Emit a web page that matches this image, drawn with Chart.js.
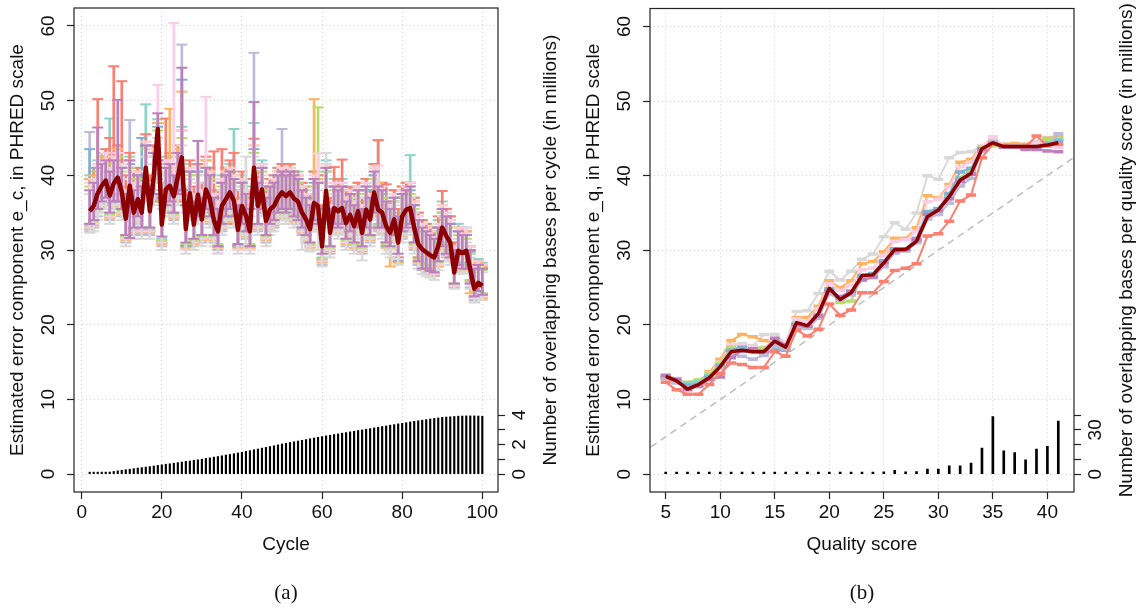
<!DOCTYPE html>
<html>
<head>
<meta charset="utf-8">
<script src="https://cdn.jsdelivr.net/npm/chart.js@4.4.1/dist/chart.umd.min.js"></script>
<style>
  body { margin: 0; background: #fff; width: 1144px; height: 609px; overflow: hidden; position: relative; }
  canvas { position: absolute; top: 0; }
  #chartA { left: 0; }
  #chartB { left: 572px; }
</style>
</head>
<body>
<canvas id="chartA" width="572" height="609"></canvas>
<canvas id="chartB" width="572" height="609"></canvas>
<script>
// ---------- panel (a): error component per cycle ----------
const mainA = [
  35.2,35.9,37.6,38.6,39.3,37.3,38.9,39.7,37.8,34.2,
  38.6,35.0,36.8,35.0,41.0,35.2,39.9,46.2,33.4,38.1,
  38.6,37.2,39.8,42.4,32.8,37.6,33.4,37.4,34.1,38.1,
  36.8,34.0,32.5,35.9,36.8,37.7,36.6,32.7,35.9,34.6,
  32.5,41.0,35.9,38.1,33.9,35.4,35.9,37.0,37.7,37.2,
  37.7,36.9,36.5,35.0,34.1,32.8,36.3,35.9,30.5,37.9,
  32.3,35.6,35.2,35.6,33.6,34.7,33.2,35.2,32.3,35.4,
  34.1,37.7,35.4,35.0,33.2,32.3,34.1,31.0,34.5,35.4,
  35.6,33.0,30.8,30.1,29.7,29.3,29.0,30.5,33.0,31.9,
  31.0,27.0,29.9,29.6,29.9,27.4,24.8,25.6,25.2];

// overlapping bases per cycle, millions
const countA = [
  0.01,0.03,0.05,0.07,0.11,0.14,0.18,0.22,0.26,0.30,
  0.33,0.37,0.41,0.44,0.48,0.51,0.55,0.59,0.63,0.67,
  0.70,0.74,0.78,0.82,0.86,0.89,0.93,0.97,1.01,1.06,
  1.10,1.15,1.19,1.24,1.29,1.33,1.38,1.43,1.48,1.54,
  1.59,1.65,1.70,1.76,1.81,1.87,1.92,1.98,2.04,2.09,
  2.14,2.19,2.24,2.29,2.34,2.39,2.44,2.49,2.54,2.59,
  2.63,2.68,2.72,2.77,2.81,2.86,2.90,2.95,2.99,3.04,
  3.08,3.13,3.17,3.22,3.26,3.31,3.35,3.40,3.44,3.48,
  3.53,3.57,3.61,3.65,3.69,3.73,3.77,3.80,3.84,3.86,
  3.88,3.90,3.92,3.93,3.94,3.94,3.94,3.93,3.92];

// per-sample error bars (lower / upper caps)
const salmonHi = [
  39.5,41.0,50.2,42.0,43.5,45.0,54.6,44.0,52.6,40.0,
  43.0,40.5,41.0,40.0,45.5,40.0,44.0,47.0,39.0,47.6,
  43.0,41.5,44.0,46.0,38.0,42.0,38.5,41.5,39.0,42.5,
  41.0,43.2,38.0,43.5,41.0,42.0,43.0,38.0,40.5,39.5,
  38.0,44.9,40.5,41.5,38.5,39.5,40.0,41.0,41.5,41.0,
  41.5,40.5,40.0,39.0,38.5,37.5,40.5,40.0,36.0,41.0,
  37.0,41.1,39.5,42.1,38.0,38.4,37.5,39.0,37.0,39.5,
  38.0,41.5,44.7,39.0,38.8,36.5,38.0,35.5,38.5,39.0,
  39.0,37.0,35.0,34.0,33.5,33.0,32.5,34.5,37.9,35.5,
  34.5,31.0,33.0,32.5,32.5,30.5,28.0,28.5,28.0];
const salmonLo = [
  33.0,33.5,35.0,35.5,36.5,34.5,36.0,36.5,35.0,31.5,
  35.5,32.5,34.0,32.5,37.0,32.5,36.5,40.0,31.0,35.0,
  35.5,34.5,36.5,38.0,30.5,34.5,31.0,34.5,31.5,35.0,
  34.0,31.5,30.5,33.0,34.0,34.5,33.5,30.5,33.0,32.0,
  30.5,36.0,33.0,35.0,31.5,33.0,33.5,34.5,35.0,34.5,
  35.0,34.5,34.0,32.5,32.0,30.5,33.5,33.5,28.5,34.5,
  30.0,33.0,32.5,33.0,31.5,32.0,31.0,32.5,30.0,32.5,
  31.5,34.5,33.0,32.5,31.0,30.0,31.5,29.0,32.0,33.0,
  33.0,31.0,29.0,28.0,27.8,27.5,27.3,28.5,30.5,30.0,
  29.0,25.5,28.0,27.8,28.0,25.8,23.5,24.2,24.0];
const purpleHi = [
  38.0,39.0,46.4,41.5,42.0,40.5,42.0,50.1,41.0,37.5,
  42.0,38.0,40.0,38.5,44.0,38.5,43.0,48.3,37.0,41.0,
  41.5,40.0,43.0,54.4,36.0,40.5,36.5,44.6,37.0,41.0,
  40.0,37.0,35.5,39.0,40.0,40.5,39.5,36.0,39.0,37.5,
  35.5,49.8,39.0,41.0,37.0,38.5,39.0,40.0,40.5,40.0,
  40.5,40.0,39.5,38.0,37.0,36.0,39.5,39.0,34.0,41.0,
  35.5,38.5,38.0,38.5,36.5,37.5,36.0,38.0,35.5,38.5,
  37.0,40.5,38.5,38.0,36.5,35.5,37.0,34.5,37.5,38.0,
  38.5,36.0,34.0,33.0,32.5,32.0,31.5,33.0,35.5,34.5,
  33.5,30.0,32.5,32.0,32.0,30.0,27.5,28.0,27.5];
const purpleLo = [
  33.5,34.0,35.5,36.5,37.0,35.0,36.5,36.5,35.5,32.0,
  31.6,33.0,34.5,33.0,38.5,33.0,37.5,42.0,31.8,36.0,
  36.5,35.0,37.5,38.0,31.0,35.5,31.5,34.5,32.0,35.5,
  34.5,32.0,30.5,33.5,34.5,35.5,34.5,30.8,33.5,32.5,
  30.5,37.0,33.5,35.5,32.0,33.5,34.0,35.0,35.5,35.0,
  35.5,34.5,34.0,33.0,32.0,31.0,34.0,33.5,29.5,35.5,
  30.5,33.5,33.0,33.5,31.5,32.5,31.0,33.0,30.5,33.0,
  32.0,35.0,33.0,33.0,31.0,30.5,32.0,29.5,32.5,33.0,
  33.5,31.0,28.5,27.5,27.5,27.2,27.0,28.5,30.5,29.5,
  29.0,25.5,28.0,27.5,27.5,25.5,23.8,24.5,24.0];
const pinkHi = [
  39.0,39.5,41.5,42.0,43.0,41.0,42.5,43.0,41.5,38.0,
  42.0,39.0,40.5,39.0,44.5,39.0,43.5,52.1,37.5,42.0,
  42.0,60.4,43.0,46.0,37.0,41.0,37.5,41.0,38.0,50.5,
  40.5,37.5,36.5,39.5,40.5,41.0,40.0,36.5,39.5,38.0,
  36.5,44.0,39.5,41.5,37.5,39.0,39.5,40.5,41.0,40.5,
  41.0,40.0,40.0,38.5,37.5,36.5,40.0,42.9,34.5,41.5,
  36.0,39.0,38.5,39.0,37.0,38.0,36.5,38.5,36.0,39.0,
  37.5,41.0,41.3,38.5,36.5,36.0,37.5,34.5,38.0,38.5,
  39.0,36.5,34.5,33.5,33.0,32.5,32.0,33.5,36.0,35.0,
  34.0,30.5,33.0,32.5,33.0,30.5,27.8,28.5,28.0];
const pinkLo = [
  33.0,33.5,35.0,36.0,36.5,34.5,36.0,37.0,35.0,31.5,
  35.5,32.5,34.0,32.5,38.0,32.5,37.0,40.5,31.0,35.5,
  35.5,34.5,37.0,38.5,30.0,35.0,31.0,34.5,31.5,35.5,
  34.0,31.5,29.6,33.0,34.0,35.0,34.0,30.0,33.0,32.0,
  30.0,36.5,33.0,35.5,31.5,33.0,33.5,34.5,35.0,34.5,
  35.0,34.0,34.0,32.5,31.5,30.5,33.5,33.0,28.5,35.0,
  30.0,33.0,32.5,33.0,31.0,32.0,30.5,32.5,30.0,32.5,
  31.5,35.0,33.0,32.5,31.0,30.0,31.5,28.8,32.0,33.0,
  33.0,30.5,28.5,27.8,27.5,27.0,26.8,28.0,30.5,29.5,
  28.8,25.2,27.8,27.5,27.8,25.5,23.5,24.0,23.8];
const lavHi = [
  45.8,40.0,41.0,42.5,42.5,40.5,42.0,43.0,41.0,37.5,
  47.4,38.5,40.0,38.5,44.0,38.5,43.0,47.0,37.0,41.5,
  41.5,40.5,43.0,57.5,36.0,40.5,36.5,40.5,37.5,41.0,
  40.0,37.0,36.0,39.0,40.0,40.5,39.5,36.0,39.0,37.5,
  36.0,56.4,39.0,41.0,37.0,38.5,39.0,40.5,46.2,40.0,
  40.5,40.0,39.5,38.0,37.0,36.0,39.5,39.0,34.0,41.0,
  35.5,38.5,38.0,38.5,36.5,37.5,36.0,38.0,35.5,38.5,
  37.0,40.0,38.5,38.0,36.0,35.5,37.0,34.0,37.5,38.0,
  38.5,36.0,34.0,33.0,32.5,32.0,31.5,33.0,35.5,34.5,
  33.5,30.0,32.5,32.0,32.0,29.8,27.3,28.0,27.5];
const lavLo = [
  32.5,33.0,34.5,35.5,36.0,34.0,35.5,36.5,34.5,31.0,
  35.0,32.0,33.5,32.0,37.5,32.0,36.5,39.5,30.5,35.0,
  35.0,34.0,36.5,37.5,30.0,34.5,30.5,34.0,31.0,35.0,
  33.5,31.0,30.0,32.5,33.5,34.5,33.5,30.0,32.5,31.5,
  30.0,36.0,32.5,35.0,31.0,32.5,33.0,34.0,34.5,34.0,
  34.5,33.5,33.5,32.0,31.0,30.0,33.0,32.5,28.0,34.5,
  29.5,32.5,32.0,32.5,30.5,31.5,30.0,32.0,29.5,32.0,
  31.0,34.5,32.5,32.0,30.5,29.5,31.0,28.5,31.5,32.5,
  32.5,30.0,28.0,27.3,27.0,26.8,26.5,27.8,30.0,29.0,
  28.5,25.0,27.5,27.0,27.3,25.0,23.3,23.8,23.5];
const tealHi = [
  40.0,40.5,42.0,43.0,43.5,47.6,43.0,44.0,42.0,38.5,
  42.5,39.5,41.0,39.5,49.5,39.5,44.0,47.5,38.0,42.5,
  42.5,41.0,43.5,46.5,37.0,41.5,37.5,41.5,38.0,42.0,
  41.0,38.0,36.5,40.0,41.0,41.5,46.2,37.0,40.0,38.5,
  36.5,47.0,40.0,42.0,38.0,39.5,40.0,41.0,41.5,41.0,
  41.5,40.5,40.5,39.0,38.0,37.0,40.5,40.0,35.0,42.0,
  36.5,39.5,39.0,39.5,37.5,38.5,37.0,39.0,36.5,39.5,
  38.0,41.5,44.7,39.0,37.0,36.5,38.0,35.0,38.5,39.0,
  42.7,37.0,35.0,34.0,33.5,33.0,32.5,34.0,36.5,35.5,
  34.5,31.0,33.5,33.0,33.0,30.5,28.0,28.8,28.3];
const tealLo = [
  33.5,34.0,35.5,36.5,37.0,35.0,36.5,37.5,35.5,32.0,
  36.0,33.0,34.5,33.0,38.0,33.0,37.5,40.5,31.5,36.0,
  36.0,35.0,37.5,38.5,30.5,35.5,31.5,35.0,32.0,36.0,
  34.5,32.0,30.5,33.5,34.5,35.5,34.5,30.5,33.5,32.5,
  30.5,37.0,33.5,35.5,32.0,33.5,34.0,35.0,35.5,35.0,
  35.5,34.5,34.5,33.0,32.0,31.0,34.0,33.5,29.0,35.5,
  30.5,33.5,33.0,33.5,31.5,32.5,31.0,33.0,30.5,33.0,
  32.0,35.5,33.5,33.0,31.0,30.5,32.0,29.0,32.5,33.5,
  33.5,31.0,29.0,28.3,28.0,27.5,27.3,28.5,31.0,30.0,
  29.3,25.5,28.3,28.0,28.3,26.0,23.8,24.5,24.2];
const blueHi = [
  43.5,39.5,41.0,42.0,42.5,40.5,42.0,42.5,41.0,37.5,
  41.5,38.0,40.0,45.0,44.0,38.0,43.0,46.5,36.5,41.0,
  41.5,40.0,42.5,52.8,36.0,40.5,36.5,40.5,37.0,41.0,
  40.0,37.0,35.5,39.0,40.0,40.5,39.5,36.0,39.0,37.5,
  35.5,43.5,39.0,41.0,37.0,38.5,39.0,40.0,40.5,40.0,
  40.5,39.5,39.5,38.0,37.0,36.0,39.0,39.0,34.0,40.5,
  35.5,38.5,38.0,38.5,36.5,37.5,36.0,38.0,35.5,38.0,
  37.0,40.0,38.0,37.5,36.0,35.5,36.5,34.0,37.0,37.5,
  38.0,36.0,33.5,33.0,32.5,32.0,31.5,33.0,35.0,34.5,
  33.5,30.0,32.5,32.0,32.0,29.8,27.5,28.0,27.8];
const blueLo = [
  33.0,33.5,35.0,36.0,36.5,34.5,36.0,37.0,35.0,31.5,
  35.5,32.5,34.0,32.5,37.5,32.5,37.0,40.0,31.0,35.5,
  35.5,34.5,37.0,38.0,30.5,35.0,31.0,34.5,31.5,35.5,
  34.0,31.5,30.5,33.0,34.0,35.0,34.0,30.5,33.0,32.0,
  30.5,36.5,33.0,35.0,31.5,33.0,33.5,34.5,35.0,34.5,
  35.0,34.0,34.0,32.5,31.5,30.5,33.5,33.0,28.8,35.0,
  30.0,33.0,32.5,33.0,31.0,32.0,30.5,32.5,30.0,32.5,
  31.5,35.0,33.0,32.5,30.5,30.0,31.5,28.5,32.0,33.0,
  33.0,30.5,28.5,27.8,27.5,27.0,26.8,28.0,30.5,29.5,
  28.8,25.3,27.8,27.5,27.8,25.5,23.6,24.3,24.0];
const orangeHi = [
  39.5,40.0,41.5,42.5,43.0,41.0,42.5,43.5,41.5,38.0,
  42.0,39.0,40.5,39.0,44.5,39.0,43.5,47.0,37.5,42.0,
  48.9,41.0,43.5,51.2,37.0,41.0,37.5,41.0,38.0,42.0,
  40.5,37.5,36.5,39.5,40.5,41.0,40.0,36.5,39.5,38.0,
  36.5,44.0,39.5,41.5,37.5,39.0,39.5,40.5,41.0,40.5,
  41.0,40.0,40.0,38.5,37.5,36.5,50.2,39.5,34.5,41.5,
  36.0,39.0,38.5,39.0,37.0,38.0,36.5,38.5,36.0,39.0,
  37.5,41.0,39.0,38.5,36.5,36.0,37.5,34.5,38.0,38.5,
  39.0,36.5,34.5,33.5,33.0,32.5,32.0,33.5,36.0,35.0,
  34.0,30.5,33.0,32.5,32.5,30.0,27.5,28.3,27.8];
const orangeLo = [
  32.8,33.3,35.0,35.8,36.3,34.3,35.8,36.8,34.8,31.3,
  35.3,32.3,33.8,32.3,37.8,32.3,36.8,40.3,30.8,35.3,
  35.3,34.3,36.8,38.3,30.3,34.8,30.8,34.3,31.3,35.3,
  33.8,31.3,30.3,32.8,33.8,34.8,33.8,30.3,32.8,31.8,
  30.3,36.3,32.8,35.3,31.3,32.8,33.3,34.3,34.8,34.3,
  34.8,33.8,33.8,32.3,31.3,30.3,33.3,32.8,28.3,34.8,
  29.8,32.8,32.3,32.8,30.8,31.8,30.3,32.3,29.8,32.3,
  31.3,34.8,32.8,32.3,30.3,27.8,31.3,28.3,31.8,32.8,
  32.8,30.3,28.3,27.6,27.3,26.8,26.6,27.8,30.3,29.3,
  28.6,25.0,27.6,27.3,27.6,24.2,23.0,23.8,23.5];
const greenHi = [
  38.5,39.0,40.5,41.5,42.0,40.0,41.5,42.5,40.5,37.0,
  41.0,38.0,39.5,38.0,43.5,38.0,42.5,46.0,36.5,41.0,
  41.0,40.0,42.5,45.0,36.0,40.0,36.5,40.0,37.0,41.0,
  39.5,36.5,35.5,38.5,39.5,40.5,39.0,35.5,38.5,37.0,
  35.5,43.0,38.5,40.5,36.5,38.0,38.5,39.5,40.0,39.5,
  40.0,39.5,39.0,37.5,36.5,35.5,38.5,49.1,33.5,40.5,
  35.0,38.0,37.5,38.0,36.0,37.0,35.5,37.5,35.0,37.5,
  36.5,39.5,37.5,37.0,35.5,35.0,36.5,33.5,37.0,37.5,
  37.5,35.5,33.5,32.5,32.0,31.5,31.0,32.5,35.0,34.0,
  33.0,29.5,32.0,31.5,31.5,29.5,27.0,27.8,27.3];
const greenLo = [
  33.3,33.8,35.3,36.3,36.8,34.8,36.3,37.3,35.3,31.8,
  35.8,32.8,34.3,32.8,37.8,32.8,37.3,40.3,31.3,35.8,
  35.8,34.8,37.3,38.3,30.8,35.3,31.3,34.8,31.8,35.8,
  34.3,31.8,30.8,33.3,34.3,35.3,34.3,30.8,33.3,32.3,
  30.8,36.8,33.3,35.8,31.8,33.3,33.8,34.8,35.3,34.8,
  35.3,34.3,34.3,32.8,31.8,30.8,33.8,33.3,28.8,35.3,
  30.3,33.3,32.8,33.3,31.3,32.3,30.8,32.8,30.3,32.8,
  31.8,35.3,33.3,32.8,30.8,30.3,31.8,28.8,32.3,33.3,
  33.3,30.8,28.8,28.0,27.8,27.3,27.0,28.3,30.8,29.8,
  29.0,25.5,28.0,27.8,28.0,25.8,23.8,24.5,24.2];
const greyHi = [
  37.5,38.0,39.5,40.5,41.0,39.5,41.0,41.5,39.5,36.5,
  40.5,37.0,39.0,37.5,42.5,37.0,41.5,45.0,35.5,40.0,
  40.0,39.0,41.5,44.0,35.0,39.5,35.5,39.0,36.0,40.0,
  39.0,36.0,34.5,38.0,39.0,39.5,38.5,35.0,38.0,42.5,
  34.5,42.5,38.0,40.0,36.0,37.5,38.0,39.0,39.5,39.0,
  39.5,38.5,38.5,37.0,36.0,35.0,38.0,38.0,33.0,43.0,
  34.5,37.5,37.0,37.5,35.5,36.5,35.0,37.0,34.5,37.0,
  36.0,39.0,37.0,36.5,35.0,34.5,36.0,33.0,36.5,37.0,
  37.0,35.0,33.0,32.0,31.5,31.0,30.5,32.0,34.5,33.5,
  32.5,29.0,31.5,31.0,31.0,29.0,26.5,27.3,27.0];
const greyLo = [
  32.3,32.5,34.0,35.0,35.5,33.5,35.0,36.0,34.0,30.5,
  34.5,31.5,33.0,31.5,36.5,31.5,36.0,39.0,30.0,34.5,
  34.5,33.5,36.0,37.0,29.5,34.0,30.0,33.5,30.5,34.5,
  33.0,30.5,29.5,32.0,33.0,34.0,33.0,29.5,32.0,30.5,
  29.5,35.5,32.0,34.5,30.5,32.0,32.5,33.5,34.0,33.5,
  34.0,33.0,33.0,30.0,30.0,29.8,32.5,30.0,27.8,33.5,
  29.0,32.0,31.5,32.0,30.0,31.0,29.5,31.5,28.6,31.5,
  30.5,34.0,32.0,31.5,29.5,29.0,30.5,28.0,31.0,32.0,
  32.0,29.5,27.5,26.8,26.5,26.3,26.0,27.3,29.5,28.5,
  28.0,24.8,27.0,26.8,27.0,24.8,23.0,23.5,23.3];

// ---------- panel (b): error component per quality score ----------
const mainB = [13.1,12.5,11.4,12.0,12.9,14.4,16.4,16.6,16.4,16.4,
  17.8,17.0,20.3,19.9,21.5,24.9,23.4,24.3,26.6,26.7,
  28.3,30.1,30.1,31.2,34.5,35.4,37.2,39.4,40.3,43.6,
  44.4,43.9,43.9,43.9,43.9,44.1,44.4];
const salmonB = [12.3,11.3,10.7,10.7,12.0,13.5,14.9,14.7,14.3,14.3,
  16.4,15.8,19.3,18.5,19.4,22.8,21.3,22.0,24.3,24.3,
  25.8,27.3,27.6,28.2,31.9,32.2,33.9,36.6,37.4,42.4,
  44.2,44.0,43.9,43.9,45.3,44.0,44.2];
const greyB = [13.3,12.8,12.0,12.3,13.3,15.2,17.3,17.5,17.2,18.7,
  18.7,17.6,21.8,21.9,24.2,27.2,26.0,27.2,28.8,29.5,
  31.8,33.7,32.8,35.0,40.0,39.5,42.4,43.1,43.2,44.0,
  44.9,44.2,44.2,44.2,44.6,45.1,45.3];
const orangeB = [13.1,12.5,11.8,12.3,13.7,15.4,17.9,18.7,18.4,17.9,
  17.5,17.3,21.0,21.0,22.5,25.9,25.0,25.9,28.2,28.5,
  29.8,31.6,31.6,33.0,37.3,37.0,38.8,41.8,42.2,44.0,
  44.3,44.2,44.3,44.2,44.2,45.0,45.2];
const purpleB = [13.2,12.7,11.3,11.8,12.7,13.0,15.6,16.5,16.8,16.5,
  18.2,17.3,20.0,19.8,21.2,24.5,23.8,24.5,26.0,26.4,
  28.3,29.9,30.1,31.4,34.8,35.3,36.9,39.2,40.2,43.5,
  44.3,43.8,43.8,43.5,43.5,43.3,43.2];
const pinkB = [13.0,12.6,11.8,12.3,13.5,15.0,17.3,17.2,17.0,17.0,
  18.0,17.6,20.8,20.5,22.2,25.5,24.6,25.3,27.4,27.6,
  29.3,31.2,31.4,32.5,36.5,36.8,38.5,41.2,41.8,44.0,
  45.2,44.0,44.0,43.8,44.3,44.5,43.8];
const blueB = [12.9,12.4,11.9,12.0,13.0,14.5,16.6,17.0,16.5,16.2,
  16.6,16.6,20.0,19.6,21.0,24.8,23.6,24.5,26.6,26.9,
  28.6,30.2,30.2,31.6,35.2,35.6,37.6,40.5,41.0,43.6,
  44.2,43.8,43.8,43.6,43.6,44.3,44.6];
const lavB = [12.9,12.2,11.6,11.7,12.6,14.2,16.0,15.8,15.4,15.9,
  17.2,16.8,19.7,19.5,20.9,24.2,23.3,24.0,26.0,26.3,
  27.8,29.6,29.9,31.0,34.2,34.8,36.3,38.6,39.6,43.2,
  44.6,44.0,44.0,43.8,43.8,44.0,45.6];
const greenB = [13.0,12.5,12.3,12.6,13.4,14.8,17.0,16.8,16.8,16.9,
  16.9,16.9,20.2,19.8,21.3,24.8,23.0,23.2,26.5,26.8,
  28.6,29.9,30.0,31.2,35.0,35.5,37.2,39.8,40.6,43.8,
  44.0,43.8,43.8,43.8,43.8,44.8,45.0];
const tealB = [12.8,12.3,12.2,12.4,13.2,14.6,16.5,16.8,16.4,16.2,
  16.8,16.9,20.2,19.8,21.4,24.8,23.6,24.3,26.6,26.8,
  28.5,30.0,30.1,31.3,35.0,35.5,37.3,39.6,40.4,43.6,
  44.4,43.9,43.9,43.9,43.9,44.4,44.8];
// overlapping bases per quality score, millions
const countB = [0.3,0.3,0.4,0.3,0.3,0.3,0.3,0.4,0.3,0.3,
  0.3,0.3,0.4,0.5,0.3,0.4,0.3,0.3,0.4,1.0,
  1.6,2.5,1.6,1.8,3.4,3.4,5.6,5.6,7.4,17.6,
  38.9,15.7,14.6,9.7,16.9,18.9,36.0];
const refLine = [0, 45];  // y = x

const cycles = Array.from({length: mainA.length}, (_, i) => i + 2);
const quals = Array.from({length: mainB.length}, (_, i) => i + 5);

const C = {teal:'#8DD3C7', lav:'#BEBADA', salmon:'#FB8072', blue:'#80B1D3', orange:'#FDB462',
  green:'#B3DE69', pink:'#FCCDE5', grey:'#D9D9D9', purple:'#BC80BD', dark:'#8B0000'};

const pts = (xs, ys) => xs.map((x, i) => ({x: x, y: ys[i]}));

function errorBars(lo, hi, color) {
  return [
    { type: 'scatter', data: pts(cycles, lo).concat(pts(cycles, hi)), pointStyle: 'line',
      pointRadius: 5.5, pointBorderWidth: 2, borderColor: color, backgroundColor: color, yAxisID: 'y' },
    { type: 'bar', data: cycles.map((x, i) => ({x: x, y: [lo[i], hi[i]]})), backgroundColor: color,
      borderWidth: 0, barThickness: 2, grouped: false, yAxisID: 'y' }
  ];
}

function stepLine(ys, color) {
  return { type: 'line', data: pts(quals, ys), borderColor: color, borderWidth: 2, tension: 0,
    pointStyle: 'line', pointRadius: 5, pointBorderWidth: 3.5, pointBorderColor: color,
    pointBackgroundColor: color, yAxisID: 'y' };
}

const setTicks = vals => s => { s.ticks = vals.map(v => ({value: v})); };
const gridOn = {color: '#d2d2d2', lineWidth: 1, tickLength: 7, tickColor: '#222', tickWidth: 1.2,
  tickBorderDash: [], offset: false};
const gridOff = {drawOnChartArea: false, tickLength: 7, tickColor: '#222', tickWidth: 1.2, tickBorderDash: []};
const dotted = {display: false, dash: [1, 3]};

// labels, titles and the box are drawn as text on top of the chart
function decor(o) {
  return {
    id: 'decor',
    afterDraw(chart) {
      const ctx = chart.ctx, a = chart.chartArea, sc = chart.scales;
      ctx.save();
      ctx.strokeStyle = '#222';
      ctx.lineWidth = 1.2;
      ctx.strokeRect(a.left, a.top, a.right - a.left, a.bottom - a.top);
      ctx.fillStyle = '#111';
      ctx.font = '19px "Liberation Sans", Arial, sans-serif';
      ctx.textAlign = 'center';
      ctx.textBaseline = 'middle';
      const vtext = (t, x, y) => {
        ctx.save(); ctx.translate(x, y); ctx.rotate(-Math.PI / 2); ctx.fillText(t, 0, 0); ctx.restore();
      };
      o.xLabels.forEach(v => ctx.fillText(String(v), sc.x.getPixelForValue(v), a.bottom + 21));
      o.yLabels.forEach(v => vtext(String(v), a.left - 25, sc.y.getPixelForValue(v)));
      o.y2Labels.forEach(v => vtext(String(v), a.right + 21.5, sc.y2.getPixelForValue(v)));
      const midX = (a.left + a.right) / 2, midY = (a.top + a.bottom) / 2;
      vtext(o.yTitle, a.left - 56, midY);
      vtext(o.y2Title, a.right + 53, midY);
      ctx.fillText(o.xTitle, midX, a.bottom + 53);
      ctx.font = '21px "Liberation Serif", "Times New Roman", serif';
      ctx.fillText(o.caption, midX, 593);
      ctx.restore();
    }
  };
}

const baseOpts = (xmin, xmax, xt, y2min, y2max, y2t, leftW, rightW) => ({
  responsive: false, animation: false, devicePixelRatio: 1,
  layout: {padding: {top: 8, left: 0, right: 0, bottom: 0}},
  plugins: {legend: {display: false}, tooltip: {enabled: false}},
  scales: {
    x: {type: 'linear', offset: false, min: xmin, max: xmax, afterBuildTicks: setTicks(xt), ticks: {display: false},
        grid: gridOn, border: dotted, afterFit: s => { s.height = 117; }},
    y: {type: 'linear', position: 'left', min: -2.4, max: 62.4, afterBuildTicks: setTicks([0,10,20,30,40,50,60]),
        ticks: {display: false}, grid: gridOn, border: dotted, afterFit: s => { s.width = leftW; }},
    y2: {type: 'linear', position: 'right', min: y2min, max: y2max, afterBuildTicks: setTicks(y2t),
        ticks: {display: false}, grid: gridOff, border: {display: false}, afterFit: s => { s.width = rightW; }}
  }
});

// panel (a)
new Chart(document.getElementById('chartA'), {
  type: 'scatter',
  data: {
    datasets: [
      { type: 'line', data: pts(cycles, mainA), borderColor: C.dark, borderWidth: 4.5, pointRadius: 0,
        tension: 0, borderJoinStyle: 'round', yAxisID: 'y' },
      ...errorBars(purpleLo, purpleHi, C.purple),
      ...errorBars(greyLo, greyHi, C.grey),
      ...errorBars(pinkLo, pinkHi, C.pink),
      ...errorBars(greenLo, greenHi, C.green),
      ...errorBars(orangeLo, orangeHi, C.orange),
      ...errorBars(blueLo, blueHi, C.blue),
      ...errorBars(salmonLo, salmonHi, C.salmon),
      ...errorBars(lavLo, lavHi, C.lav),
      ...errorBars(tealLo, tealHi, C.teal),
      { type: 'bar', data: pts(cycles, countA), backgroundColor: '#000', borderWidth: 0,
        barThickness: 1.5, minBarLength: 2, grouped: false, yAxisID: 'y2' }
    ]
  },
  options: baseOpts(-1.92, 103.92, [0,20,40,60,80,100], -1.21, 31.54, [0,1,2,3,4], 74, 74),
  plugins: [decor({
    xLabels: [0,20,40,60,80,100], yLabels: [0,10,20,30,40,50,60], y2Labels: [0,2,4],
    xTitle: 'Cycle', yTitle: 'Estimated error component e_c, in PHRED scale',
    y2Title: 'Number of overlapping bases per cycle (in millions)', caption: '(a)'
  })]
});

// panel (b)
new Chart(document.getElementById('chartB'), {
  type: 'scatter',
  data: {
    datasets: [
      { type: 'line', data: pts(quals, mainB), borderColor: C.dark, borderWidth: 3.5, pointRadius: 0,
        tension: 0, borderJoinStyle: 'round', yAxisID: 'y' },
      stepLine(salmonB, C.salmon),
      stepLine(purpleB, C.purple),
      stepLine(lavB, C.lav),
      stepLine(blueB, C.blue),
      stepLine(tealB, C.teal),
      stepLine(greenB, C.green),
      stepLine(pinkB, C.pink),
      stepLine(orangeB, C.orange),
      stepLine(greyB, C.grey),
      { type: 'line', data: pts(refLine, refLine), borderColor: '#bdbdbd', borderWidth: 1.5,
        borderDash: [7, 5], pointRadius: 0, yAxisID: 'y' },
      { type: 'bar', data: pts(quals, countB), backgroundColor: '#000', borderWidth: 0,
        barThickness: 2, minBarLength: 2, grouped: false, yAxisID: 'y2' }
    ]
  },
  options: baseOpts(3.56, 42.44, [5,10,15,20,25,30,35,40], -12.11, 315.4, [0,10,20,30,40], 78, 70),
  plugins: [decor({
    xLabels: [5,10,15,20,25,30,35,40], yLabels: [0,10,20,30,40,50,60], y2Labels: [0,30],
    xTitle: 'Quality score', yTitle: 'Estimated error component e_q, in PHRED scale',
    y2Title: 'Number of overlapping bases per quality score (in millions)', caption: '(b)'
  })]
});
</script>
</body>
</html>
